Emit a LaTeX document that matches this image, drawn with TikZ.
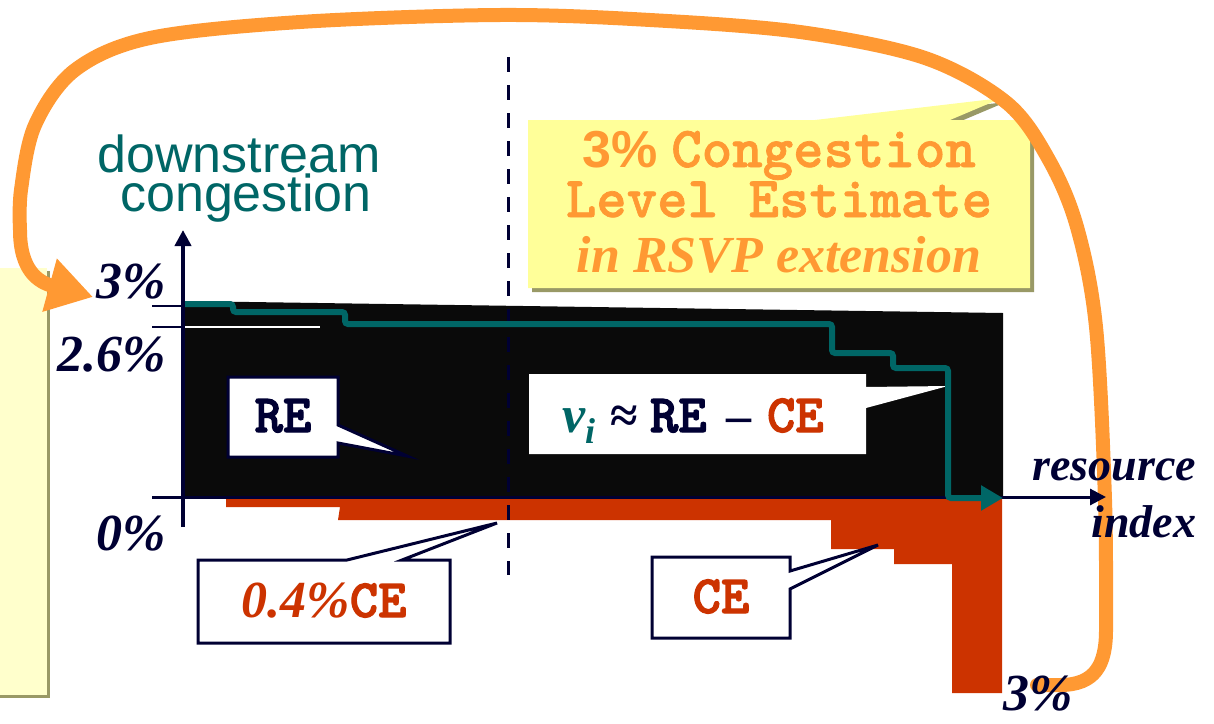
\documentclass[tikz,border=0pt]{standalone}
\usepackage{fontspec}
\setmainfont{Liberation Serif}
\newfontfamily\arialfont{Liberation Sans}
\newfontfamily\courierfont{lmmonolt10-bold}[Extension=.otf, FakeBold=2.2]
\newfontfamily\couriernote{lmmonolt10-bold}[Extension=.otf, FakeBold=1.2]
\usetikzlibrary{arrows.meta}
\newcommand\fsz[1]{\fontsize{#1}{#1}\selectfont}

\definecolor{navy}{HTML}{000033}
\definecolor{ink}{HTML}{0A0A0A}
\definecolor{cered}{HTML}{CC3300}
\definecolor{tealline}{HTML}{006666}
\definecolor{orng}{HTML}{FF9933}
\definecolor{paleyellow}{HTML}{FFFFCC}
\definecolor{noteyellow}{HTML}{FFFF99}
\definecolor{shadowolive}{HTML}{999966}

\tikzset{
  lbl/.style={inner sep=0pt, outer sep=0pt},
  axislbl/.style={lbl, font=\bfseries\itshape\fsz{52}, text=navy},
  monolbl/.style={lbl, font=\courierfont\fsz{54}},
  calloutbox/.style={fill=white, draw=navy, line width=3pt, line join=miter},
  notetext/.style={lbl, text=orng, anchor=base},
}

\begin{document}
\begin{tikzpicture}[x=1pt, y=-1pt]
\useasboundingbox (0,0) rectangle (1214,723);

% side note panel on the left
\fill[shadowolive] (-5,271) rectangle (50,698);
\fill[paleyellow] (-5,268) rectangle (47,695);

% yellow note with pointer
\fill[shadowolive, shift={(4,4)}] (528,120) -- (815,120) -- (1002,98) -- (950,120) -- (1030,120) -- (1030,288) -- (528,288) -- cycle;
\fill[noteyellow] (528,120) -- (815,120) -- (1002,98) -- (950,120) -- (1030,120) -- (1030,288) -- (528,288) -- cycle;
\node[notetext] (noteA) at (779,167) {{\arialfont\bfseries\fsz{52}3\%}\hspace{14pt}{\couriernote\fsz{58}Congestion}};
\node[notetext] (noteB) at (779,217) {\couriernote\fsz{58}Level Estimate};
\node[notetext] (noteC) at (779,272) {\bfseries\itshape\fsz{52}in RSVP extension};

% RE area above the axis, CE area below it
\fill[ink] (181,301) -- (1003,313) -- (1003,497) -- (181,497) -- cycle;
\fill[cered] (226,499) -- (1002,499) -- (1002,693) -- (952,693) -- (952,564) -- (894,564) -- (894,549) -- (831,549) -- (831,520) -- (338,520) -- (340,507) -- (226,507) -- cycle;

% feedback loop
\coordinate (loopstart) at (1037,685);
\coordinate (looptip) at (93,297);
\draw[orng, line width=14pt, line cap=round, -{Triangle[length=45pt,width=52pt]}]
  (loopstart) -- (1060,685) .. controls (1095,685) and (1106,665) .. (1106,630)
  -- plot[smooth, tension=0.55] coordinates {(1106,630) (1105,500) (1096,327) (1077,227) (1049,160) (1007,103) (925,58) (800,32) (650,20) (500,15) (300,22) (150,38) (75,70) (35,125) (21,190) (20,230)}
  .. controls (20,270) and (38,282) .. (looptip);

% dashed divider
\draw[navy, line width=3pt, dash pattern=on 15pt off 13pt] (508,57) -- (508,575);

% axes and ticks
\coordinate (yfoot) at (183,527);
\coordinate (ytip) at (183,230);
\coordinate (xfoot) at (152,497);
\coordinate (xtip) at (1106,497);
\draw[navy, line width=4pt, -{Triangle[length=16pt,width=16pt]}] (yfoot) -- (ytip);
\draw[navy, line width=3pt, -{Triangle[length=16pt,width=16pt]}] (xfoot) -- (xtip);
\draw[navy, line width=2.5pt] (152,306) -- (183,306) (152,327) -- (183,327);
\draw[white, line width=2pt] (185,327) -- (320,327);

% axis labels
\node[lbl, font=\arialfont\fsz{52}, text=tealline, anchor=base] (ylabA) at (239,172) {downstream};
\node[lbl, font=\arialfont\fsz{52}, text=tealline, anchor=base] (ylabB) at (246,211) {congestion};
\node[axislbl, anchor=base east] (lab3) at (166,298) {3\%};
\node[axislbl, anchor=base east] (lab26) at (166,371) {2.6\%};
\node[axislbl, anchor=base east] (lab0) at (166,550) {0\%};
\node[axislbl, font=\bfseries\itshape\fsz{46}, anchor=base east] (xlabA) at (1196,480) {resource};
\node[axislbl, font=\bfseries\itshape\fsz{46}, anchor=base east] (xlabB) at (1196,537) {index};
\node[axislbl, anchor=base west] (labend) at (1003,710) {3\%};

% callouts
\path[calloutbox] (228,377) -- (338,377) -- (338,425) -- (407,456) -- (338,443) -- (338,457) -- (228,457) -- cycle;
\node[monolbl, text=navy, anchor=base] (re) at (283,432) {RE};

\path[fill=white] (529,374) -- (866,374) -- (866,387) -- (948,386) -- (866,408) -- (866,454) -- (529,454) -- cycle;
\node[lbl, anchor=base west, text=tealline, font=\bfseries\itshape\fsz{52}] (viv) at (562,432) {v\raisebox{-11pt}{\fsz{36}i}};
\node[lbl, anchor=base west, text=navy, font=\bfseries\fsz{50}] (viapprox) at (610,432) {≈};
\node[monolbl, anchor=base west, text=navy] (vire) at (650,432) {RE};
\node[lbl, anchor=base west, text=navy, font=\bfseries\fsz{50}] (viminus) at (726,432) {–};
\node[monolbl, anchor=base west, text=cered] (vice) at (767,432) {CE};

\path[calloutbox] (198,560) -- (347,560) -- (497,523) -- (402,560) -- (450,560) -- (450,643) -- (198,643) -- cycle;
\node[lbl, anchor=base, text=cered, font=\fsz{52}] (ce04) at (324,617) {{\bfseries\itshape 0.4\%}{\courierfont\fsz{54}CE}};

\path[calloutbox] (652,557) -- (790,557) -- (790,571) -- (878,545) -- (790,589) -- (790,638) -- (652,638) -- cycle;
\node[monolbl, text=cered, anchor=base] (ce) at (721,613) {CE};

% downstream congestion profile
\draw[tealline, line width=6pt, rounded corners=3pt, -{Triangle[length=22pt,width=24pt]}]
  (185,304) -- (233,304) -- (233,312) -- (345,312) -- (345,324) -- (832,324) -- (832,353) -- (893,353) -- (893,368) -- (948,368) -- (948,498) -- (1003,498);
\end{tikzpicture}
\end{document}
